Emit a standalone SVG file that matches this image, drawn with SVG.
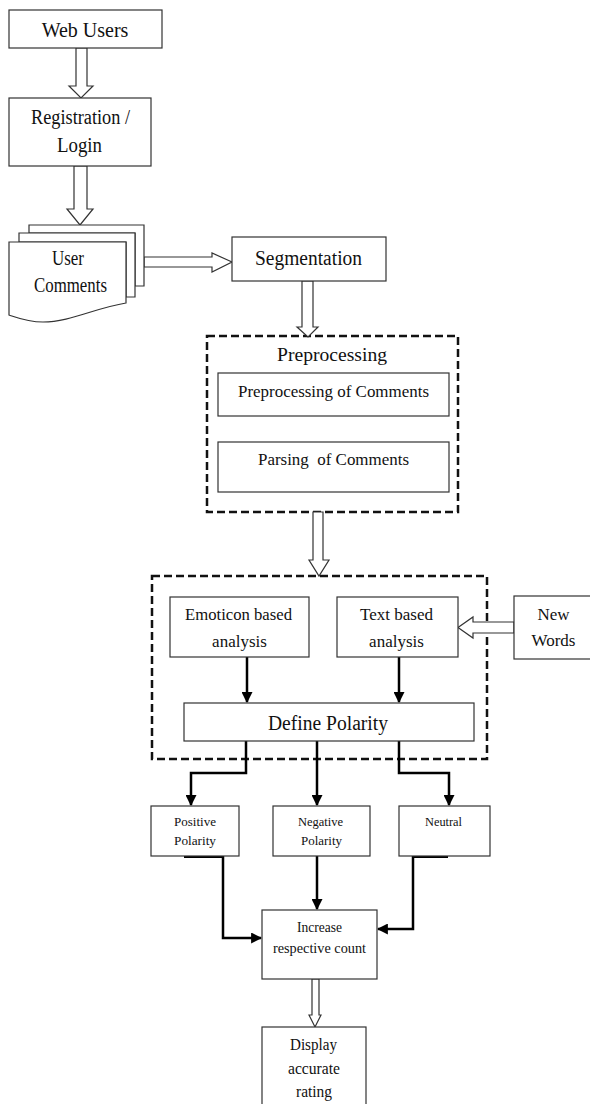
<svg xmlns="http://www.w3.org/2000/svg" width="590" height="1104" viewBox="0 0 590 1104">
  <style>
    .box { fill: #fff; stroke: #333; stroke-width: 1.2; }
    .group { fill: none; stroke: #111; stroke-width: 2.5; stroke-dasharray: 8 4; }
    .block { fill: #fff; stroke: #333; stroke-width: 1.2; stroke-linejoin: miter; }
    .wire { fill: none; stroke: #000; stroke-width: 2.5; }
    .heavy { fill: none; stroke: #000; stroke-width: 4; }
    text { font-family: "Liberation Serif", "Times New Roman", serif; fill: #111; text-anchor: middle; }
    .t20 { font-size: 20px; }
    .t19 { font-size: 19px; }
    .t17 { font-size: 17px; }
    .t16 { font-size: 16px; }
    .t15 { font-size: 15px; }
    .t13 { font-size: 13.5px; }
  </style>
  <defs>
    <marker id="head" viewBox="0 0 10 10" refX="9" refY="5" markerWidth="4.4" markerHeight="4.4" markerUnits="strokeWidth" orient="auto">
      <path d="M0,0 L10,5 L0,10 Z" fill="#000"/>
    </marker>
  </defs>

  <!-- group containers -->
  <rect id="preprocessing-group" class="group" x="207" y="336" width="251" height="176"/>
  <rect id="analysis-group" class="group" x="152" y="576" width="335" height="183"/>

  <!-- connectors -->
  <g id="connectors">
    <!-- hollow block arrows -->
    <polygon class="block" points="76,48 87,48 87,86 93,86 81,98 69,86 76,86"/>
    <polygon class="block" points="74,166 87,166 87,209 93,209 80,225 67,209 74,209"/>
    <polygon class="block" points="144,257 212,257 212,253 232,262 212,272 212,267 144,267"/>
    <polygon class="block" points="302,281 313,281 313,327 318,327 308,337 297,327 302,327"/>
    <polygon class="block" points="313,512 323,512 323,560 329,560 319,576 309,560 313,560"/>
    <polygon class="block" points="514,622 473,622 473,617 458,627.5 473,638 473,633 514,633"/>
    <polygon class="block" points="312,979 319,979 319,1015 321,1015 315,1027 309,1015 312,1015"/>

    <!-- analysis to polarity -->
    <line class="wire" x1="247" y1="657" x2="247" y2="702" marker-end="url(#head)"/>
    <line class="wire" x1="399" y1="657" x2="399" y2="702" marker-end="url(#head)"/>

    <!-- polarity split -->
    <polyline class="wire" points="246,741 246,773 191,773 191,805" marker-end="url(#head)"/>
    <line class="wire" x1="317" y1="741" x2="317" y2="805" marker-end="url(#head)"/>
    <polyline class="wire" points="399,741 399,773 449,773 449,805" marker-end="url(#head)"/>

    <!-- counts -->
    <line class="heavy" x1="184" y1="856" x2="224" y2="856"/>
    <polyline class="wire" points="223,856 223,938 261,938" marker-end="url(#head)"/>
    <line class="wire" x1="317" y1="856" x2="317" y2="909" marker-end="url(#head)"/>
    <line class="heavy" x1="412" y1="856" x2="448" y2="856"/>
    <polyline class="wire" points="413,856 413,929 378,929" marker-end="url(#head)"/>
  </g>

  <g id="web-users">
    <rect class="box" x="9" y="10" width="153" height="38"/>
    <text class="t20" x="85" y="37">Web Users</text>
  </g>

  <g id="registration">
    <rect class="box" x="9" y="98" width="142" height="68"/>
    <text class="t20" x="80.5" y="124" textLength="99" lengthAdjust="spacingAndGlyphs">Registration /</text>
    <text class="t20" x="79.5" y="152" textLength="45" lengthAdjust="spacingAndGlyphs">Login</text>
  </g>

  <g id="user-comments">
    <path class="box" d="M29,225 H144 V286 H135 V233 H29 Z"/>
    <path class="box" d="M19,233 H135 V297 H126 V242 H19 Z"/>
    <path class="box" d="M9,242 H126 V303 C95,308 70,322 43,322 C28,322 18,318 9,315 Z"/>
    <text class="t20" x="68" y="265" textLength="32" lengthAdjust="spacingAndGlyphs">User</text>
    <text class="t20" x="70.5" y="292" textLength="73" lengthAdjust="spacingAndGlyphs">Comments</text>
  </g>

  <g id="segmentation">
    <rect class="box" x="232" y="237" width="154" height="44"/>
    <text class="t20" x="308.5" y="265" textLength="107" lengthAdjust="spacingAndGlyphs">Segmentation</text>
  </g>

  <g id="preprocessing">
    <text class="t19" x="332" y="361" textLength="110" lengthAdjust="spacingAndGlyphs">Preprocessing</text>
    <rect class="box" x="218" y="373" width="231" height="43"/>
    <text class="t17" x="333.5" y="397" textLength="191" lengthAdjust="spacingAndGlyphs">Preprocessing of Comments</text>
    <rect class="box" x="218" y="442" width="231" height="50"/>
    <text class="t17" x="333.5" y="465" style="white-space:pre" textLength="151" lengthAdjust="spacingAndGlyphs">Parsing  of Comments</text>
  </g>

  <g id="emoticon-analysis">
    <rect class="box" x="170" y="597" width="139" height="60"/>
    <text class="t17" x="238.5" y="620" textLength="107" lengthAdjust="spacingAndGlyphs">Emoticon based</text>
    <text class="t17" x="239.5" y="647">analysis</text>
  </g>

  <g id="text-analysis">
    <rect class="box" x="337" y="597" width="121" height="60"/>
    <text class="t17" x="396.5" y="620" textLength="73" lengthAdjust="spacingAndGlyphs">Text based</text>
    <text class="t17" x="396.5" y="647">analysis</text>
  </g>

  <g id="new-words">
    <rect class="box" x="514" y="596" width="90" height="63"/>
    <text class="t17" x="553.5" y="620">New</text>
    <text class="t17" x="553.5" y="646">Words</text>
  </g>

  <g id="define-polarity">
    <rect class="box" x="184" y="703" width="290" height="38"/>
    <text class="t20" x="328" y="730" textLength="120" lengthAdjust="spacingAndGlyphs">Define Polarity</text>
  </g>

  <g id="positive">
    <rect class="box" x="151" y="806" width="88" height="50"/>
    <text class="t13" x="195" y="826" textLength="42" lengthAdjust="spacingAndGlyphs">Positive</text>
    <text class="t13" x="195" y="845" textLength="42" lengthAdjust="spacingAndGlyphs">Polarity</text>
  </g>

  <g id="negative">
    <rect class="box" x="273" y="806" width="97" height="50"/>
    <text class="t13" x="320.5" y="826" textLength="45" lengthAdjust="spacingAndGlyphs">Negative</text>
    <text class="t13" x="321.5" y="845" textLength="41" lengthAdjust="spacingAndGlyphs">Polarity</text>
  </g>

  <g id="neutral">
    <rect class="box" x="399" y="806" width="91" height="50"/>
    <text class="t13" x="443.5" y="826" textLength="37" lengthAdjust="spacingAndGlyphs">Neutral</text>
  </g>

  <g id="increase-count">
    <rect class="box" x="262" y="910" width="115" height="69"/>
    <text class="t15" x="319.5" y="932" textLength="45" lengthAdjust="spacingAndGlyphs">Increase</text>
    <text class="t15" x="319.5" y="953" textLength="93" lengthAdjust="spacingAndGlyphs">respective count</text>
  </g>

  <g id="display-rating">
    <rect class="box" x="262" y="1027" width="104" height="90"/>
    <text class="t16" x="313.5" y="1050" textLength="47" lengthAdjust="spacingAndGlyphs">Display</text>
    <text class="t16" x="314" y="1074" textLength="52" lengthAdjust="spacingAndGlyphs">accurate</text>
    <text class="t16" x="314" y="1097" textLength="36" lengthAdjust="spacingAndGlyphs">rating</text>
  </g>
</svg>
